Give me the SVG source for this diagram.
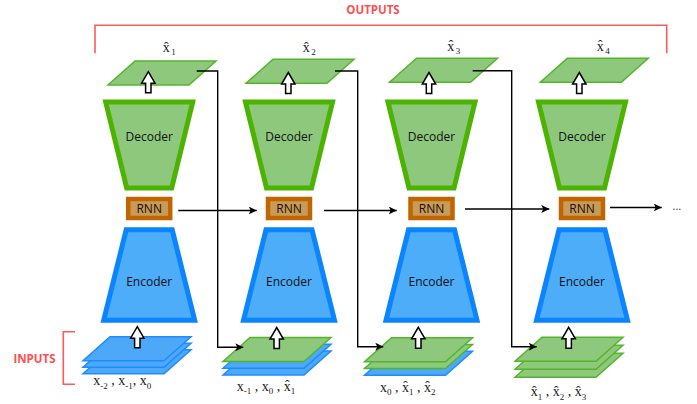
<svg xmlns="http://www.w3.org/2000/svg" xmlns:xlink="http://www.w3.org/1999/xlink" width="697" height="404" viewBox="0 0 697 404">
<style>
.dec{fill:#8DC87D;stroke:#4CB300;stroke-width:5;stroke-linejoin:miter}
.enc{fill:#4DADF8;stroke:#0A84FF;stroke-width:5;stroke-linejoin:miter}
.rnn{fill:#CA9A58;stroke:#BF6600;stroke-width:4.5}
.gp{fill:#8DC87D;stroke:#55B52A;stroke-width:1.5;stroke-linejoin:miter}
.bp{fill:#4DA8F8;stroke:#1E8CFF;stroke-width:1.5;stroke-linejoin:miter}
.up{fill:#FFFFFF;stroke:#000000;stroke-width:1.5;stroke-linejoin:miter}
.lbl{font-family:"Open Sans","Liberation Sans",sans-serif;font-size:12px;fill:#111;text-anchor:middle}
.red{font-family:"Open Sans","Liberation Sans",sans-serif;font-size:11.5px;font-weight:bold;fill:#FF4F4F;text-anchor:middle}
.brk{fill:none;stroke:#FF5A5A;stroke-width:1.6}
.m{font-family:"Liberation Serif","DejaVu Serif",serif;font-size:14px;fill:#222}
.s{font-size:9px}
.con{fill:none;stroke:#000;stroke-width:1.4}
</style>
<defs>
<marker id="ah" viewBox="0 0 10 10" refX="10" refY="5" markerWidth="8" markerHeight="8" markerUnits="userSpaceOnUse" orient="auto">
<path d="M0,0 L10,5 L0,10 L2.5,5 z" fill="#000"/>
</marker>
<path id="decShape" d="M-43.5,102 H43.5 L22.5,188 H-22.5 Z"/>
<path id="encShape" d="M-23,229.8 H23 L45.5,320.2 H-45.5 Z"/>
<path id="para" d="M0,0 h81 l-27,24 h-81 z"/>
<path id="upArrow" d="M0,0 L6.7,11.5 L2.7,11.5 L2.7,21 L-2.7,21 L-2.7,11.5 L-6.7,11.5 Z"/>
</defs>

<g id="outputs-bracket">
<path class="brk" d="M95,53.3 V25.3 H666.7 V53.3"/>
<text class="red" x="373" y="14">OUTPUTS</text>
</g>
<g id="inputs-bracket">
<path class="brk" d="M75,331.7 H63.3 V384.3 H75"/>
<text class="red" x="34.5" y="363">INPUTS</text>
</g>

<!-- Column 1 -->
<g id="out1">
<use xlink:href="#para" class="gp" x="135" y="61"/>
<use xlink:href="#upArrow" class="up" x="148.3" y="71.7"/>
<text class="m" x="162.7" y="52">x&#x302;<tspan class="s" dx="1.5" dy="3.3">1</tspan></text>
</g>
<g id="dec1"><use xlink:href="#decShape" class="dec" x="149.2" y="0"/><text class="lbl" x="149.2" y="141">Decoder</text></g>
<g id="rnn1"><rect class="rnn" x="128.2" y="199" width="42" height="19"/><text class="lbl" x="149.2" y="213">RNN</text></g>
<g id="enc1"><use xlink:href="#encShape" class="enc" x="149.2" y="0"/><text class="lbl" x="149.2" y="285.5">Encoder</text></g>
<g id="in1">
<use xlink:href="#para" class="bp" x="110" y="349.7"/>
<use xlink:href="#para" class="bp" x="110" y="343.2"/>
<use xlink:href="#para" class="bp" x="110" y="336.7"/>
<use xlink:href="#upArrow" class="up" x="137.3" y="326.7"/>
<text class="m" x="93.3" y="385.3">x<tspan class="s" dy="3.5">-2</tspan><tspan dy="-3.5"> , x</tspan><tspan class="s" dy="3.5">-1</tspan><tspan dy="-3.5">, x</tspan><tspan class="s" dy="3.5">0</tspan></text>
</g>

<!-- Column 2 -->
<g id="out2">
<use xlink:href="#para" class="gp" x="273" y="59.3"/>
<use xlink:href="#upArrow" class="up" x="288.3" y="72.5"/>
<text class="m" x="302.7" y="52">x&#x302;<tspan class="s" dx="1.5" dy="3.3">2</tspan></text>
</g>
<g id="dec2"><use xlink:href="#decShape" class="dec" x="289" y="0"/><text class="lbl" x="289" y="141">Decoder</text></g>
<g id="rnn2"><rect class="rnn" x="268" y="199" width="42" height="19"/><text class="lbl" x="289" y="213">RNN</text></g>
<g id="enc2"><use xlink:href="#encShape" class="enc" x="289" y="0"/><text class="lbl" x="289" y="285.5">Encoder</text></g>
<g id="in2">
<use xlink:href="#para" class="bp" x="250" y="351"/>
<use xlink:href="#para" class="bp" x="250" y="344.3"/>
<use xlink:href="#para" class="gp" x="250" y="337.5"/>
<use xlink:href="#upArrow" class="up" x="276.7" y="327.5"/>
<text class="m" x="236.7" y="390.5">x<tspan class="s" dy="3.5">-1</tspan><tspan dy="-3.5"> , x</tspan><tspan class="s" dy="3.5">0</tspan><tspan dy="-3.5"> , x&#x302;</tspan><tspan class="s" dy="3.5">1</tspan></text>
</g>

<!-- Column 3 -->
<g id="out3">
<use xlink:href="#para" class="gp" x="416.5" y="58.3"/>
<use xlink:href="#upArrow" class="up" x="429" y="72.5"/>
<text class="m" x="447.3" y="50.5">x&#x302;<tspan class="s" dx="1.5" dy="3.3">3</tspan></text>
</g>
<g id="dec3"><use xlink:href="#decShape" class="dec" x="431.5" y="0"/><text class="lbl" x="431.5" y="141">Decoder</text></g>
<g id="rnn3"><rect class="rnn" x="410.5" y="199" width="42" height="19"/><text class="lbl" x="431.5" y="213">RNN</text></g>
<g id="enc3"><use xlink:href="#encShape" class="enc" x="431.5" y="0"/><text class="lbl" x="431.5" y="285.5">Encoder</text></g>
<g id="in3">
<use xlink:href="#para" class="bp" x="391.5" y="351.3"/>
<use xlink:href="#para" class="gp" x="391.5" y="344.5"/>
<use xlink:href="#para" class="gp" x="391.5" y="337.7"/>
<use xlink:href="#upArrow" class="up" x="418.3" y="327.3"/>
<text class="m" x="380" y="391.5">x<tspan class="s" dy="3.5">0</tspan><tspan dy="-3.5"> , x&#x302;</tspan><tspan class="s" dy="3.5">1</tspan><tspan dy="-3.5"> , x&#x302;</tspan><tspan class="s" dy="3.5">2</tspan></text>
</g>

<!-- Column 4 -->
<g id="out4">
<use xlink:href="#para" class="gp" x="567.3" y="58.3"/>
<use xlink:href="#upArrow" class="up" x="579.3" y="72.5"/>
<text class="m" x="596.7" y="50.5">x&#x302;<tspan class="s" dx="1.5" dy="3.3">4</tspan></text>
</g>
<g id="dec4"><use xlink:href="#decShape" class="dec" x="582" y="0"/><text class="lbl" x="582" y="141">Decoder</text></g>
<g id="rnn4"><rect class="rnn" x="561" y="199" width="42" height="19"/><text class="lbl" x="582" y="213">RNN</text></g>
<g id="enc4"><use xlink:href="#encShape" class="enc" x="582" y="0"/><text class="lbl" x="582" y="285.5">Encoder</text></g>
<g id="in4">
<use xlink:href="#para" class="gp" x="542" y="353.3"/>
<use xlink:href="#para" class="gp" x="542" y="345.3"/>
<use xlink:href="#para" class="gp" x="542" y="337.3"/>
<use xlink:href="#upArrow" class="up" x="568.7" y="327.3"/>
<text class="m" x="530.7" y="396">x&#x302;<tspan class="s" dy="3.5">1</tspan><tspan dy="-3.5"> , x&#x302;</tspan><tspan class="s" dy="3.5">2</tspan><tspan dy="-3.5"> , x&#x302;</tspan><tspan class="s" dy="3.5">3</tspan></text>
</g>

<g id="connectors">
<path class="con" d="M178.3,210.5 H256.7" marker-end="url(#ah)"/>
<path class="con" d="M324,210.5 H396.7" marker-end="url(#ah)"/>
<path class="con" d="M465,209 H549.3" marker-end="url(#ah)"/>
<path class="con" d="M610,207.5 H661.7" marker-end="url(#ah)"/>
<path class="con" d="M196.7,71 H217.7 V347.3 H243.3" marker-end="url(#ah)"/>
<path class="con" d="M335,71 H357.7 V346.7 H383.3" marker-end="url(#ah)"/>
<path class="con" d="M472.7,70.7 H511.7 V346.7 H536.7" marker-end="url(#ah)"/>
</g>
<text id="ellipsis" x="672.5" y="210" font-family="Open Sans, Liberation Sans, sans-serif" font-size="11" fill="#333">...</text>
</svg>
